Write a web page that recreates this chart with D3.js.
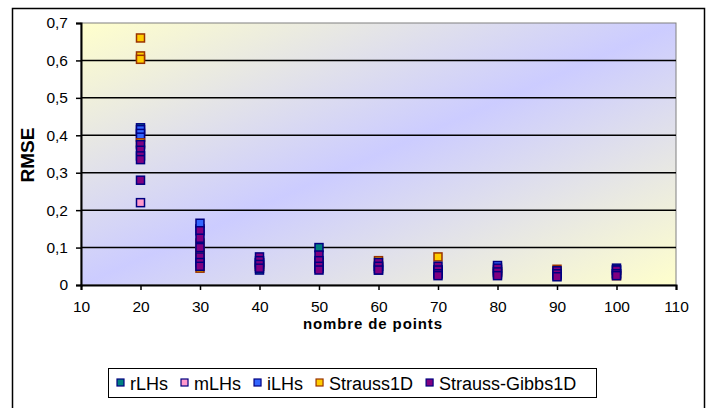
<!DOCTYPE html>
<html>
<head>
<meta charset="utf-8">
<script src="https://cdn.jsdelivr.net/npm/d3@7"></script>
<style>
  html, body { margin: 0; padding: 0; background: #fff; }
  svg { display: block; font-family: "Liberation Sans", Arial, sans-serif; }
</style>
</head>
<body>
<svg id="chart" width="713" height="408"></svg>
<script>
// Number of design points for each experiment
const xValues = [20, 30, 40, 50, 60, 70, 80, 90, 100];

// RMSE values per design size (one inner list per x value)
const rLHs = [[0.42], [0.15, 0.06], [0.04, 0.06], [0.10, 0.05], [0.045], [0.035], [0.04], [0.03], [0.045]];
const mLHs = [[0.22], [0.09, 0.05], [0.05], [0.045], [0.04], [0.03], [0.03], [0.025], [0.03]];
const iLHs = [[0.415, 0.405, 0.395], [0.165, 0.07], [0.06], [0.06], [0.05], [0.04], [0.052], [0.035], [0.04]];
const strauss1D = [[0.66, 0.612, 0.603, 0.38], [0.112, 0.087, 0.045], [0.05], [0.055], [0.065], [0.075], [0.035], [0.042], [0.025]];
const straussGibbs1D = [[0.375, 0.36, 0.345, 0.335, 0.28], [0.145, 0.125, 0.10, 0.075, 0.06, 0.05],
  [0.075, 0.065, 0.055, 0.045], [0.08, 0.065, 0.05, 0.04], [0.06, 0.05, 0.04], [0.05, 0.04, 0.03, 0.025],
  [0.045, 0.035, 0.025], [0.038, 0.03, 0.022], [0.04, 0.03, 0.025]];

const seriesNames = ["rLHs", "mLHs", "iLHs", "Strauss1D", "Strauss-Gibbs1D"];
const seriesValues = [rLHs, mLHs, iLHs, strauss1D, straussGibbs1D];
const seriesFill = ["#008080", "#FF99CC", "#3366FF", "#FFCC00", "#800080"];
const seriesStroke = ["#000080", "#000080", "#000080", "#993300", "#000080"];

const xTicks = [10, 20, 30, 40, 50, 60, 70, 80, 90, 100, 110];
const yTicks = [0, 0.1, 0.2, 0.3, 0.4, 0.5, 0.6, 0.7];
const yTickLabels = ["0", "0,1", "0,2", "0,3", "0,4", "0,5", "0,6", "0,7"];

const svg = d3.select("#chart");
const plot = { left: 81, top: 23, right: 676, bottom: 285 };

const x = d3.scaleLinear().domain([10, 110]).range([plot.left, plot.right]);
const y = d3.scaleLinear().domain([0, 0.7]).range([plot.bottom, plot.top]);

// outer chart frame
svg.append("rect")
  .attr("x", 12.5).attr("y", 8.5).attr("width", 692).attr("height", 420)
  .attr("fill", "#fff").attr("stroke", "#000").attr("stroke-width", 1.5);

// diagonal gradient fill of the plot area
const defs = svg.append("defs");
const grad = defs.append("linearGradient").attr("id", "bg")
  .attr("x1", 0).attr("y1", 0).attr("x2", 1).attr("y2", 1);
grad.append("stop").attr("offset", 0).attr("stop-color", "#FFFFCC");
grad.append("stop").attr("offset", 0.5).attr("stop-color", "#CCCCFF");
grad.append("stop").attr("offset", 1).attr("stop-color", "#FFFFCC");

svg.append("rect")
  .attr("x", plot.left).attr("y", plot.top)
  .attr("width", plot.right - plot.left).attr("height", plot.bottom - plot.top)
  .attr("fill", "url(#bg)").attr("stroke", "#808080").attr("stroke-width", 1);

// horizontal gridlines
svg.append("g").selectAll("line")
  .data(yTicks.filter(d => d > 0 && d < 0.7))
  .join("line")
  .attr("x1", plot.left).attr("x2", plot.right)
  .attr("y1", d => y(d)).attr("y2", d => y(d))
  .attr("stroke", "#000").attr("stroke-width", 1.5);

// axes
const yAxis = d3.axisLeft(y).tickValues(yTicks)
  .tickFormat((d, i) => yTickLabels[i]).tickSize(5).tickPadding(8);
const gy = svg.append("g").attr("transform", `translate(${plot.left},0)`).call(yAxis);
gy.select(".domain").attr("stroke", "#000").attr("stroke-width", 2);
gy.selectAll(".tick line").attr("stroke", "#000").attr("stroke-width", 1.5);
gy.selectAll(".tick text").attr("font-size", 15.5).attr("fill", "#000")
  .attr("font-family", "Liberation Sans, Arial, sans-serif");

const xAxis = d3.axisBottom(x).tickValues(xTicks).tickSize(5).tickPadding(11);
const gx = svg.append("g").attr("transform", `translate(0,${plot.bottom})`).call(xAxis);
gx.select(".domain").attr("stroke", "#000").attr("stroke-width", 2);
gx.selectAll(".tick line").attr("stroke", "#000").attr("stroke-width", 1.5);
gx.selectAll(".tick text").attr("font-size", 15.5).attr("fill", "#000")
  .attr("font-family", "Liberation Sans, Arial, sans-serif");

// axis titles
svg.append("text")
  .attr("transform", `translate(34,${(plot.top + plot.bottom) / 2 + 1}) rotate(-90)`)
  .attr("text-anchor", "middle")
  .attr("font-size", 19).attr("font-weight", "bold")
  .text("RMSE");

svg.append("text")
  .attr("x", 372.5).attr("y", 329)
  .attr("text-anchor", "middle")
  .attr("font-size", 15).attr("font-weight", "bold")
  .attr("textLength", 139).attr("lengthAdjust", "spacing")
  .text("nombre de points");

// scatter markers
const ms = 8;
seriesValues.forEach((vals, si) => {
  const pts = [];
  vals.forEach((list, xi) => list.forEach(v => pts.push({ x: xValues[xi], v })));
  svg.append("g").selectAll("rect")
    .data(pts)
    .join("rect")
    .attr("x", d => x(d.x) - ms / 2)
    .attr("y", d => y(d.v) - ms / 2)
    .attr("width", ms).attr("height", ms)
    .attr("fill", seriesFill[si])
    .attr("stroke", seriesStroke[si])
    .attr("stroke-width", 1.5);
});

// legend
const legend = svg.append("g");
legend.append("rect")
  .attr("x", 108.5).attr("y", 368.5).attr("width", 488).attr("height", 29)
  .attr("fill", "#fff").attr("stroke", "#000").attr("stroke-width", 1);

let lx = 117;
seriesNames.forEach((name, i) => {
  legend.append("rect")
    .attr("x", lx).attr("y", 379).attr("width", 7).attr("height", 7)
    .attr("fill", seriesFill[i]).attr("stroke", seriesStroke[i]).attr("stroke-width", 1.2);
  const t = legend.append("text")
    .attr("x", lx + 13).attr("y", 389.5)
    .attr("font-size", 18)
    .text(name);
  lx += 13 + t.node().getComputedTextLength() + 13;
});
</script>
</body>
</html>
